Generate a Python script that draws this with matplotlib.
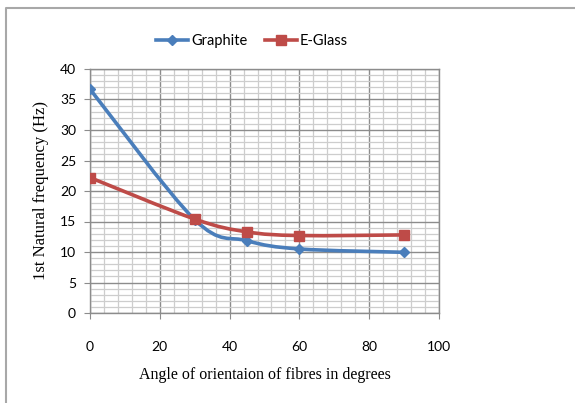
import numpy as np
import matplotlib
matplotlib.use("Agg")
import matplotlib.pyplot as plt
from matplotlib.path import Path
from matplotlib.patches import PathPatch
from matplotlib.lines import Line2D
from matplotlib.ticker import MultipleLocator

angles = [0, 30, 45, 60, 90]
graphite = [36.7, 15.3, 11.85, 10.5, 9.95]
eglass = [22.2, 15.4, 13.3, 12.7, 12.8]

blue = "#4a7ebb"
red = "#be4b48"


def smooth_path(xs, ys):
    # Bezier segments like a spreadsheet "smoothed line"
    pts = np.column_stack([xs, ys]).astype(float)
    n = len(pts)
    verts = [pts[0]]
    codes = [Path.MOVETO]
    for i in range(n - 1):
        p0 = pts[i - 1] if i > 0 else pts[i]
        p3 = pts[i + 2] if i + 2 < n else pts[i + 1]
        c1 = pts[i] + (pts[i + 1] - p0) / 6.0
        c2 = pts[i + 1] - (p3 - pts[i]) / 6.0
        verts += [c1, c2, pts[i + 1]]
        codes += [Path.CURVE4] * 3
    return Path(verts, codes)


fig = plt.figure(figsize=(5.75, 4.03), dpi=100)
W, H = 575, 403
ax = fig.add_axes([90 / W, (H - 313) / H, (439 - 90) / W, (313 - 69) / H])

ax.set_xlim(0, 100)
ax.set_ylim(0, 40)
ax.xaxis.set_major_locator(MultipleLocator(20))
ax.xaxis.set_minor_locator(MultipleLocator(4))
ax.yaxis.set_major_locator(MultipleLocator(5))
ax.yaxis.set_minor_locator(MultipleLocator(1))

ax.grid(which="minor", color="#cdcdcd", lw=0.9)
ax.grid(which="major", color="#8c8c8c", lw=1.0)
ax.set_axisbelow(True)
for s in ax.spines.values():
    s.set_color("#8c8c8c")
    s.set_linewidth(1.0)

ax.tick_params(which="minor", length=0)
ax.tick_params(axis="x", which="major", direction="out", length=4, pad=16,
               color="#8c8c8c", labelsize=10)
ax.tick_params(axis="y", which="major", direction="out", length=4, pad=6,
               color="#8c8c8c", labelsize=10)
for lab in ax.get_xticklabels() + ax.get_yticklabels():
    lab.set_fontfamily("Lato")

for ys, col in [(graphite, blue), (eglass, red)]:
    ax.add_patch(PathPatch(smooth_path(angles, ys), fill=False, edgecolor=col,
                           lw=2.6, capstyle="round", joinstyle="round", zorder=3))

ax.plot(angles, graphite, ls="none", marker="D", ms=5, color=blue, zorder=4)
ax.plot(angles, eglass, ls="none", marker="s", ms=6.5, color=red, zorder=4)

ax.set_xlabel("Angle of orientaion of fibres in degrees", family="Liberation Serif",
              fontsize=11.5, labelpad=10)
ax.set_ylabel("1st Natural frequency (Hz)", family="Liberation Serif",
              fontsize=12, labelpad=8)

handles = [
    Line2D([], [], color=blue, lw=2.6, marker="D", ms=5),
    Line2D([], [], color=red, lw=2.6, marker="s", ms=6.5),
]
leg = fig.legend(handles, ["Graphite", "E-Glass"], loc="center",
                 bbox_to_anchor=(252 / W, 1 - 41 / H), ncol=2, frameon=False,
                 handlelength=2.2, handletextpad=0.2, columnspacing=1.2,
                 prop={"family": "Lato", "size": 10.5})

# outer border of the chart area
fig.add_artist(Line2D([6 / W, 6 / W, 1], [0, 1 - 7.5 / H, 1 - 7.5 / H],
                      transform=fig.transFigure, color="#a8a8a8", lw=1.5))

fig.savefig("out.png", dpi=100)
